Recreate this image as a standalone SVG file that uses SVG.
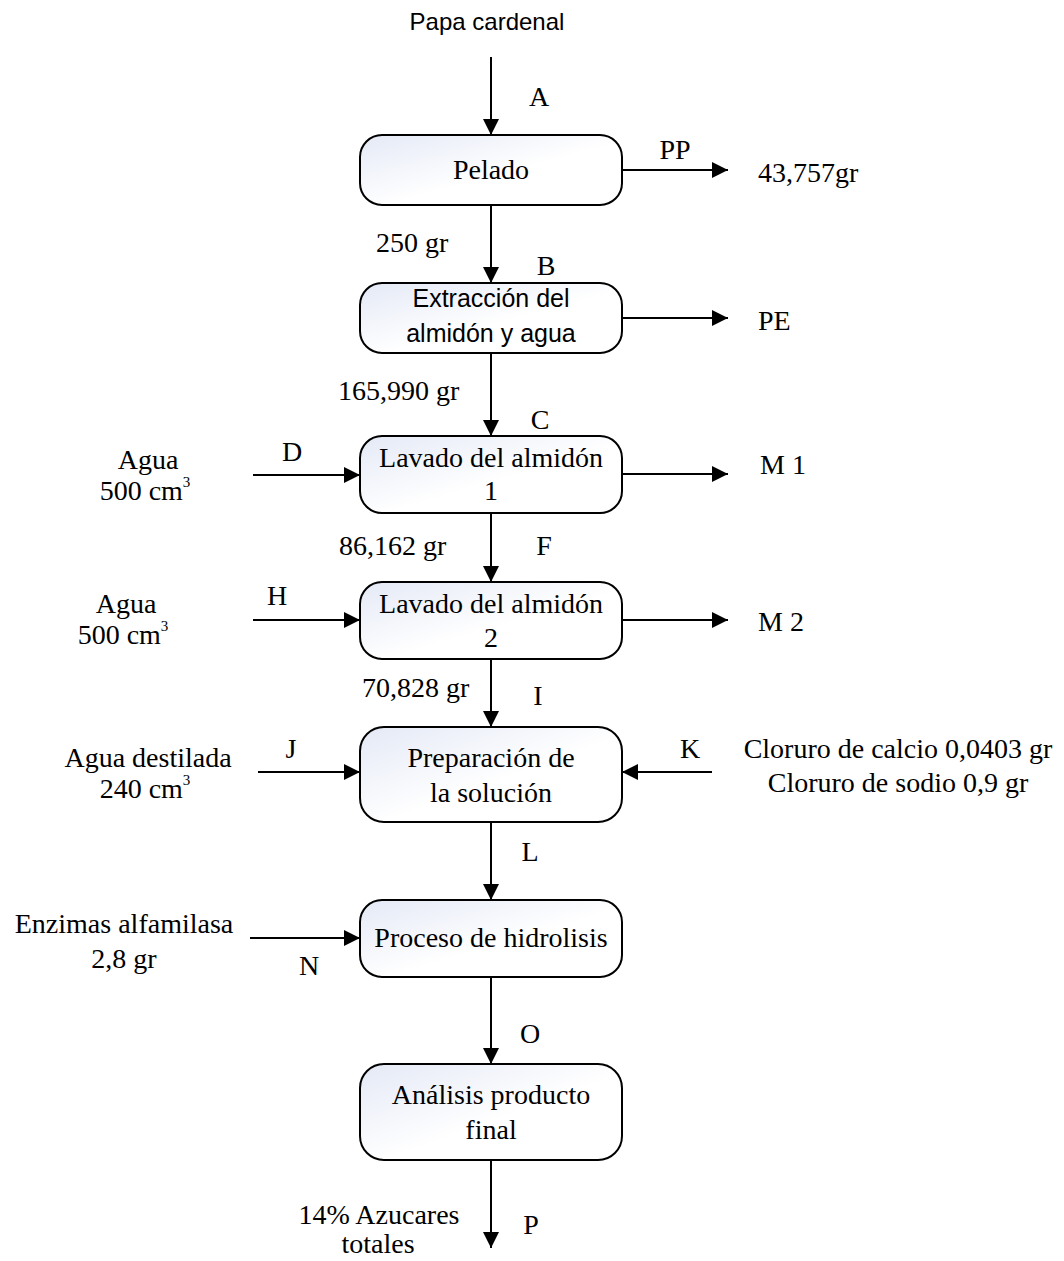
<svg xmlns="http://www.w3.org/2000/svg" width="1064" height="1261" viewBox="0 0 1064 1261">
  <style>
    .box { fill: url(#boxFill); stroke: #000; stroke-width: 2; }
    .flow { stroke: #000; stroke-width: 2; fill: none; marker-end: url(#arrow); }
    .t { font-family: "Liberation Serif", "Times New Roman", serif; font-size: 28px; fill: #000; }
    .s { font-family: "Liberation Sans", Arial, sans-serif; font-size: 24px; fill: #000; }
    .s2 { font-size: 25px; }
    .c { text-anchor: middle; }
    .sup { font-size: 15px; }
  </style>
  <defs>
    <linearGradient id="boxFill" x1="0" y1="0" x2="1" y2="1">
      <stop offset="0" stop-color="#e4e9f6"/>
      <stop offset="0.55" stop-color="#ffffff"/>
      <stop offset="1" stop-color="#ffffff"/>
    </linearGradient>
    <marker id="arrow" markerUnits="userSpaceOnUse" markerWidth="16" markerHeight="16" refX="16" refY="8" orient="auto">
      <path d="M0,0 L16,8 L0,16 z" fill="#000"/>
    </marker>
  </defs>

  <!-- flow connectors -->
  <g id="connectors">
    <line class="flow" x1="491" y1="57" x2="491" y2="135"/>
    <line class="flow" x1="491" y1="205" x2="491" y2="283"/>
    <line class="flow" x1="491" y1="353" x2="491" y2="436"/>
    <line class="flow" x1="491" y1="513" x2="491" y2="582"/>
    <line class="flow" x1="491" y1="659" x2="491" y2="727"/>
    <line class="flow" x1="491" y1="822" x2="491" y2="900"/>
    <line class="flow" x1="491" y1="977" x2="491" y2="1064"/>
    <line class="flow" x1="491" y1="1160" x2="491" y2="1248"/>
    <!-- side outputs -->
    <line class="flow" x1="622" y1="170" x2="728" y2="170"/>
    <line class="flow" x1="622" y1="318" x2="728" y2="318"/>
    <line class="flow" x1="622" y1="474" x2="728" y2="474"/>
    <line class="flow" x1="622" y1="620" x2="728" y2="620"/>
    <!-- side inputs -->
    <line class="flow" x1="253" y1="475" x2="360" y2="475"/>
    <line class="flow" x1="253" y1="620" x2="360" y2="620"/>
    <line class="flow" x1="258" y1="772" x2="360" y2="772"/>
    <line class="flow" x1="712" y1="772" x2="622" y2="772"/>
    <line class="flow" x1="250" y1="938" x2="360" y2="938"/>
  </g>

  <!-- stream labels -->
  <g id="labels">
    <text class="s c" x="487" y="30">Papa cardenal</text>
    <text class="t c" x="539" y="106">A</text>
    <text class="t c" x="675" y="159">PP</text>
    <text class="t" x="758" y="182">43,757gr</text>
    <text class="t" x="376" y="252">250 gr</text>
    <text class="t c" x="546" y="275">B</text>
    <text class="t" x="758" y="330">PE</text>
    <text class="t" x="338" y="400">165,990 gr</text>
    <text class="t c" x="540" y="429">C</text>
    <text class="t c" x="148" y="469">Agua</text>
    <text class="t c" x="145" y="500">500 cm<tspan class="sup" dy="-13">3</tspan></text>
    <text class="t c" x="292" y="461">D</text>
    <text class="t" x="760" y="474">M 1</text>
    <text class="t" x="339" y="555">86,162 gr</text>
    <text class="t c" x="544" y="555">F</text>
    <text class="t c" x="126" y="613">Agua</text>
    <text class="t c" x="123" y="644">500 cm<tspan class="sup" dy="-13">3</tspan></text>
    <text class="t c" x="277" y="605">H</text>
    <text class="t" x="758" y="631">M 2</text>
    <text class="t" x="362" y="697">70,828 gr</text>
    <text class="t c" x="538" y="705">I</text>
    <text class="t c" x="148" y="767">Agua destilada</text>
    <text class="t c" x="145" y="798">240 cm<tspan class="sup" dy="-13">3</tspan></text>
    <text class="t c" x="291" y="758">J</text>
    <text class="t c" x="690" y="758">K</text>
    <text class="t c" x="898" y="758">Cloruro de calcio 0,0403 gr</text>
    <text class="t c" x="898" y="792">Cloruro de sodio 0,9 gr</text>
    <text class="t c" x="530" y="861">L</text>
    <text class="t c" x="124" y="933">Enzimas alfamilasa</text>
    <text class="t c" x="124" y="968">2,8 gr</text>
    <text class="t c" x="309" y="975">N</text>
    <text class="t c" x="530" y="1043">O</text>
    <text class="t c" x="379" y="1224">14% Azucares</text>
    <text class="t c" x="378" y="1253">totales</text>
    <text class="t c" x="531" y="1234">P</text>
  </g>

  <!-- process steps -->
  <g id="pelado">
    <rect class="box" x="360" y="135" width="262" height="70" rx="22"/>
    <text class="t c" x="491" y="179">Pelado</text>
  </g>
  <g id="extraccion">
    <rect class="box" x="360" y="283" width="262" height="70" rx="22"/>
    <text class="s s2 c" x="491" y="307">Extracción del</text>
    <text class="s s2 c" x="491" y="342">almidón y agua</text>
  </g>
  <g id="lavado1">
    <rect class="box" x="360" y="436" width="262" height="77" rx="22"/>
    <text class="t c" x="491" y="467">Lavado del almidón</text>
    <text class="t c" x="491" y="500">1</text>
  </g>
  <g id="lavado2">
    <rect class="box" x="360" y="582" width="262" height="77" rx="22"/>
    <text class="t c" x="491" y="613">Lavado del almidón</text>
    <text class="t c" x="491" y="647">2</text>
  </g>
  <g id="preparacion">
    <rect class="box" x="360" y="727" width="262" height="95" rx="24"/>
    <text class="t c" x="491" y="767">Preparación de</text>
    <text class="t c" x="491" y="802">la solución</text>
  </g>
  <g id="hidrolisis">
    <rect class="box" x="360" y="900" width="262" height="77" rx="22"/>
    <text class="t c" x="491" y="947">Proceso de hidrolisis</text>
  </g>
  <g id="analisis">
    <rect class="box" x="360" y="1064" width="262" height="96" rx="24"/>
    <text class="t c" x="491" y="1104">Análisis producto</text>
    <text class="t c" x="491" y="1139">final</text>
  </g>
</svg>
